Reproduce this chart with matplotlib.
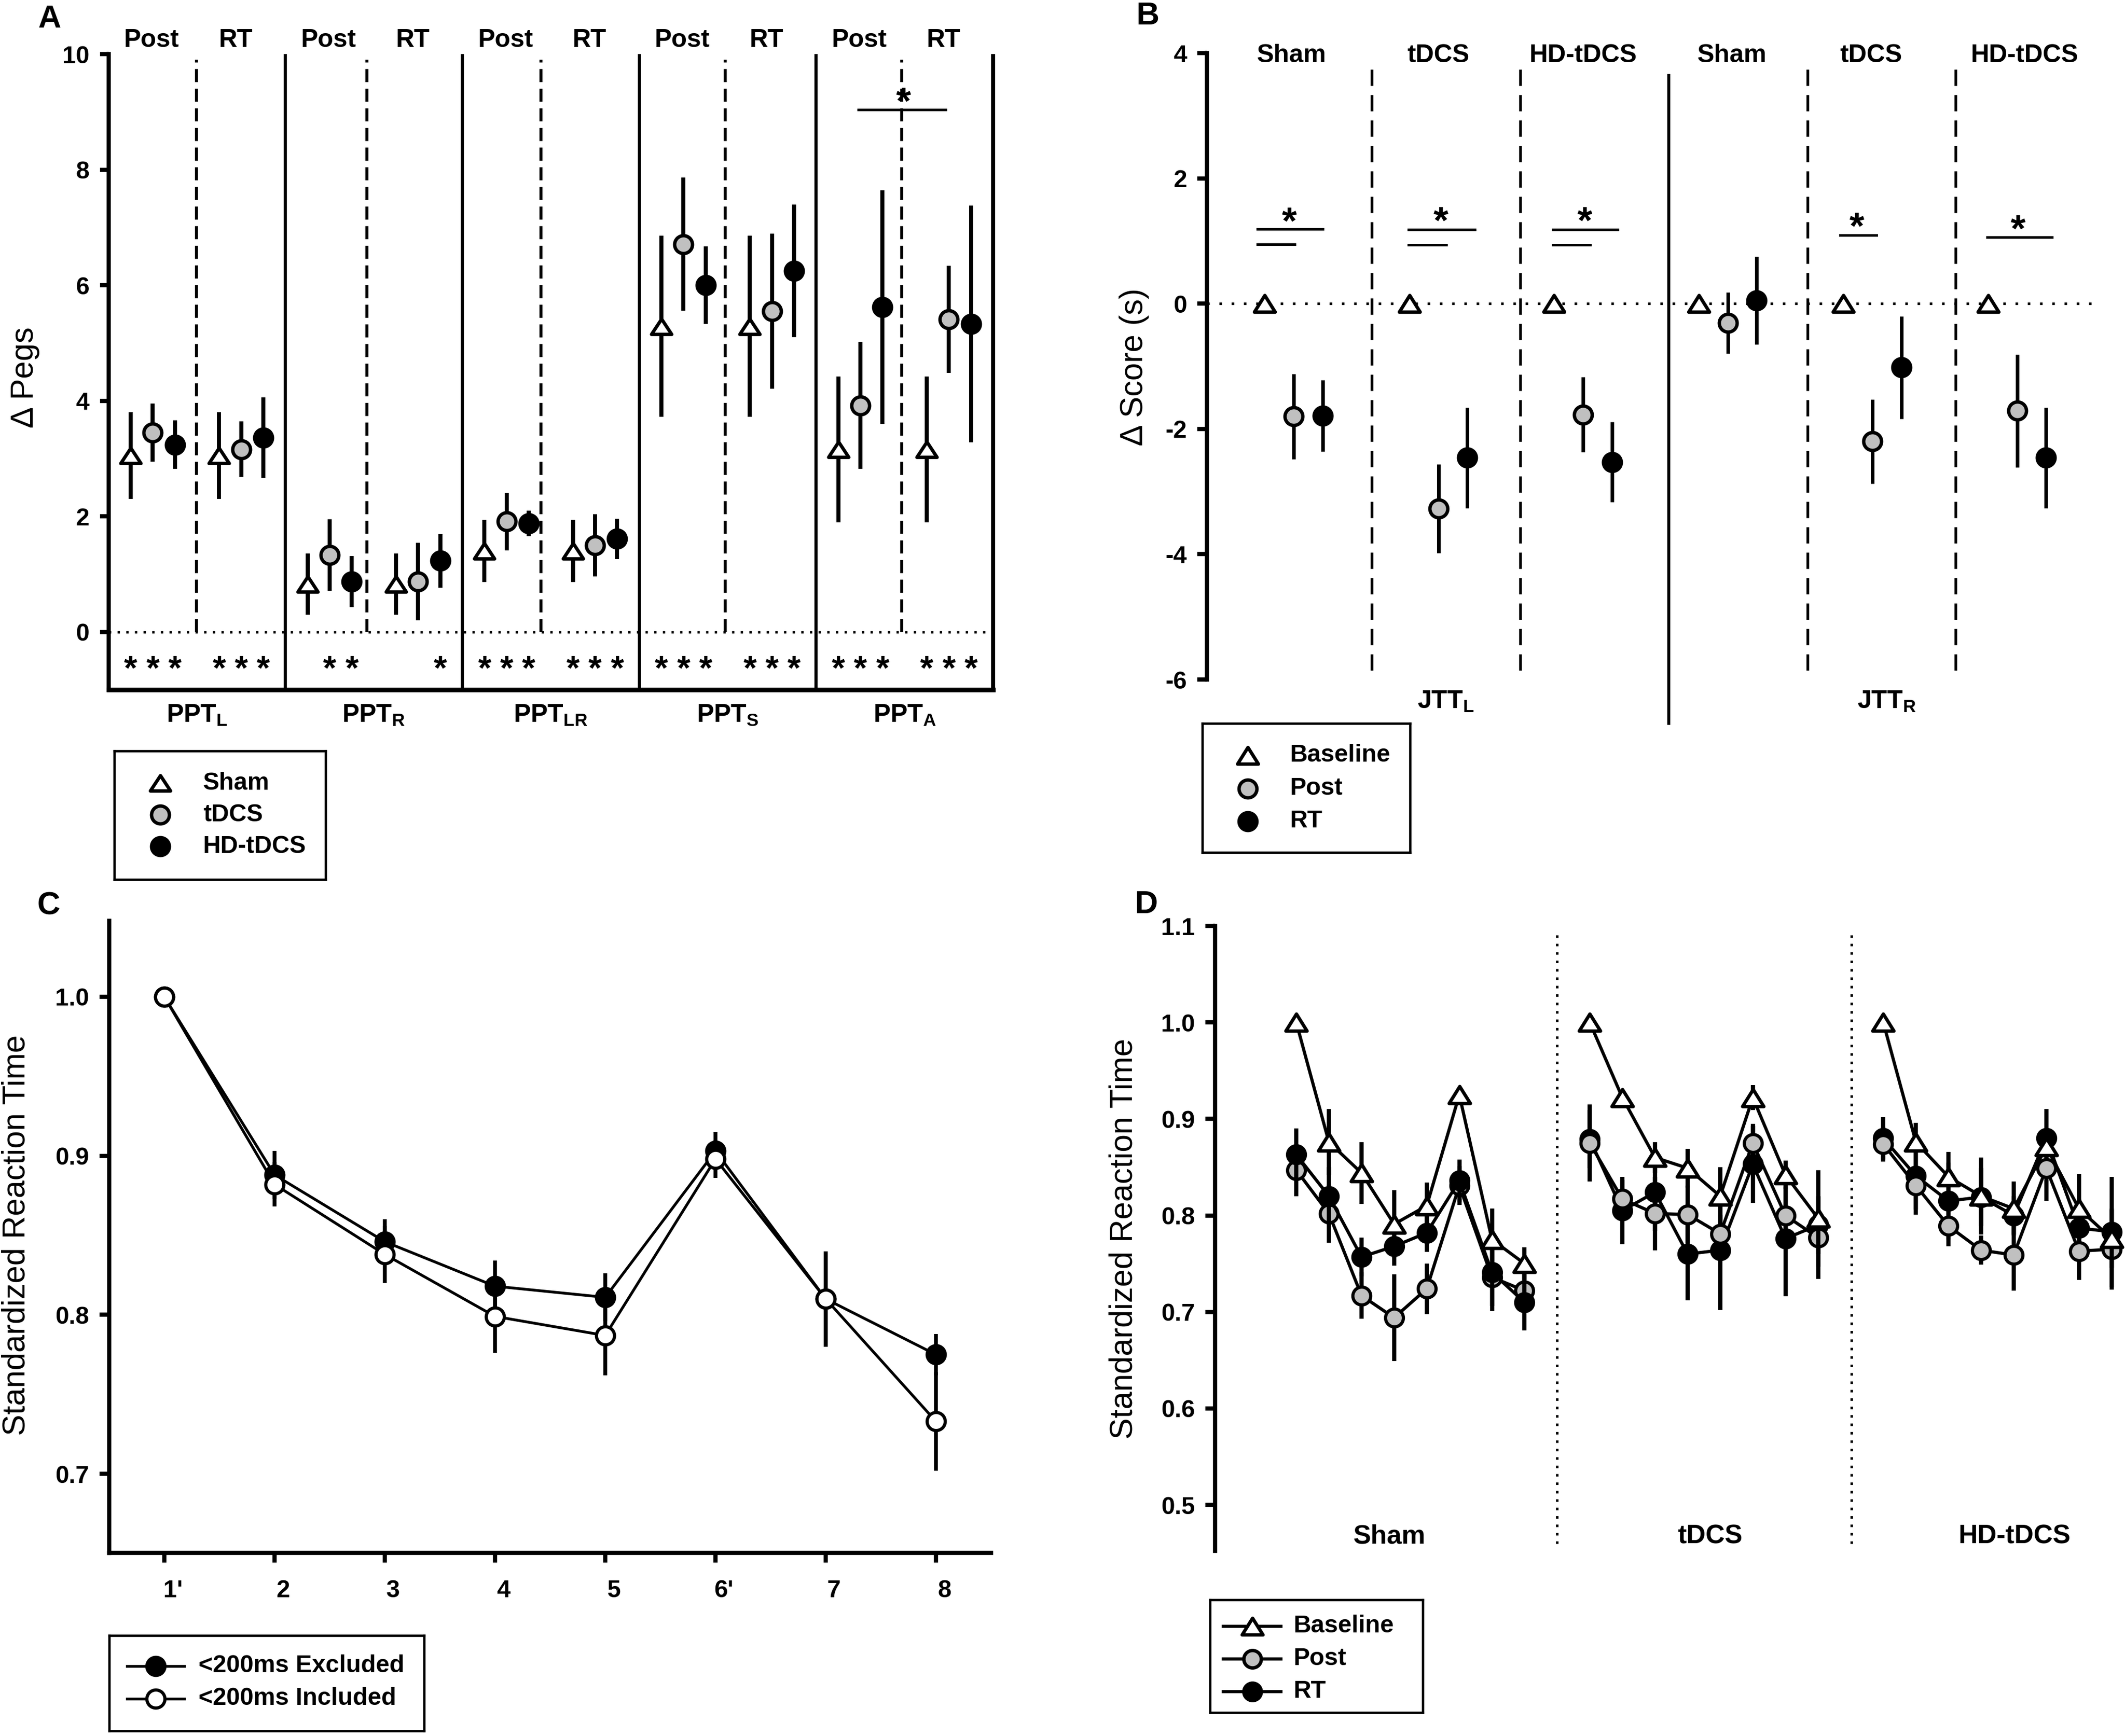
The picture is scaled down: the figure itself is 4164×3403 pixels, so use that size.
import matplotlib
matplotlib.use('Agg')
import matplotlib.pyplot as plt
import numpy as np
from matplotlib.path import Path
from matplotlib.transforms import offset_copy, ScaledTranslation

plt.rcParams['font.family'] = ['Liberation Sans', 'DejaVu Sans']
plt.rcParams['mathtext.fontset'] = 'custom'
plt.rcParams['mathtext.rm'] = 'Liberation Sans'
plt.rcParams['mathtext.bf'] = 'Liberation Sans:bold'
plt.rcParams['mathtext.it'] = 'Liberation Sans:italic'
plt.rcParams['mathtext.sf'] = 'Liberation Sans'

# ======================= DATA =======================
# ---- Panel A : change in pegs (Purdue Pegboard Test) ----
ppt_subs = ['L', 'R', 'LR', 'S', 'A']
a_phase_labels = ['Post', 'RT']
a_legend_labels = ['Sham', 'tDCS', 'HD-tDCS']
a_post_sham = [3.05, 0.83, 1.40, 5.29, 3.16]
a_post_tdcs = [3.45, 1.33, 1.91, 6.71, 3.92]
a_post_hd = [3.24, 0.87, 1.88, 6.00, 5.62]
a_rt_sham = [3.05, 0.83, 1.40, 5.29, 3.16]
a_rt_tdcs = [3.16, 0.87, 1.50, 5.55, 5.41]
a_rt_hd = [3.36, 1.23, 1.61, 6.25, 5.33]
a_post_sham_err = [0.75, 0.53, 0.54, 1.57, 1.26]
a_post_tdcs_err = [0.50, 0.62, 0.50, 1.15, 1.10]
a_post_hd_err = [0.42, 0.44, 0.22, 0.67, 2.02]
a_rt_sham_err = [0.75, 0.53, 0.54, 1.57, 1.26]
a_rt_tdcs_err = [0.48, 0.67, 0.54, 1.34, 0.93]
a_rt_hd_err = [0.70, 0.46, 0.35, 1.15, 2.05]
# significance vs. zero (Sham, tDCS, HD-tDCS)
a_sig_post = [[1, 1, 1], [0, 1, 1], [1, 1, 1], [1, 1, 1], [1, 1, 1]]
a_sig_rt = [[1, 1, 1], [0, 0, 1], [1, 1, 1], [1, 1, 1], [1, 1, 1]]

# ---- Panel B : Jebsen-Taylor test ----
jtt_subs = ['L', 'R']
b_groups = ['Sham', 'tDCS', 'HD-tDCS', 'Sham', 'tDCS', 'HD-tDCS']
b_legend_labels = ['Baseline', 'Post', 'RT']
b_baseline = [0, 0, 0, 0, 0, 0]
b_post = [-1.80, -3.27, -1.77, -0.31, -2.20, -1.71]
b_post_err = [0.68, 0.71, 0.60, 0.49, 0.67, 0.90]
b_rt = [-1.79, -2.46, -2.53, 0.05, -1.02, -2.46]
b_rt_err = [0.57, 0.80, 0.64, 0.70, 0.82, 0.80]

# ---- Panel C : standardized reaction time by block ----
c_blocks = ["1'", '2', '3', '4', '5', "6'", '7', '8']
c_legend_labels = ['<200ms Excluded', '<200ms Included']
c_excl = [1.000, 0.888, 0.846, 0.818, 0.811, 0.903, 0.810, 0.775]
c_excl_err = [0.000, 0.015, 0.014, 0.016, 0.015, 0.012, 0.030, 0.013]
c_incl = [1.000, 0.882, 0.838, 0.799, 0.787, 0.898, 0.810, 0.733]
c_incl_err = [0.000, 0.014, 0.018, 0.023, 0.025, 0.012, 0.030, 0.031]

# ---- Panel D : standardized reaction time by group and session ----
d_groups = ['Sham', 'tDCS', 'HD-tDCS']
d_legend_labels = ['Baseline', 'Post', 'RT']
d_sham_base = [1.000, 0.876, 0.844, 0.791, 0.810, 0.925, 0.775, 0.750]
d_sham_post = [0.847, 0.802, 0.717, 0.694, 0.724, 0.831, 0.736, 0.722]
d_sham_rt = [0.863, 0.820, 0.757, 0.768, 0.782, 0.836, 0.741, 0.710]
d_sham_base_err = [0.000, 0.034, 0.032, 0.035, 0.024, 0.008, 0.032, 0.017]
d_sham_post_err = [0.027, 0.030, 0.024, 0.045, 0.026, 0.020, 0.030, 0.020]
d_sham_rt_err = [0.027, 0.030, 0.020, 0.020, 0.020, 0.022, 0.040, 0.029]

d_tdcs_base = [1.000, 0.922, 0.860, 0.849, 0.820, 0.922, 0.842, 0.797]
d_tdcs_post = [0.875, 0.817, 0.802, 0.801, 0.781, 0.875, 0.800, 0.777]
d_tdcs_rt = [0.879, 0.805, 0.824, 0.760, 0.764, 0.853, 0.776, 0.790]
d_tdcs_base_err = [0.000, 0.008, 0.016, 0.020, 0.030, 0.013, 0.015, 0.050]
d_tdcs_post_err = [0.040, 0.020, 0.038, 0.030, 0.020, 0.020, 0.030, 0.043]
d_tdcs_rt_err = [0.030, 0.035, 0.040, 0.048, 0.062, 0.040, 0.060, 0.030]

d_hd_base = [1.000, 0.876, 0.840, 0.820, 0.807, 0.871, 0.807, 0.776]
d_hd_post = [0.874, 0.831, 0.789, 0.764, 0.759, 0.849, 0.763, 0.765]
d_hd_rt = [0.880, 0.841, 0.815, 0.819, 0.800, 0.880, 0.787, 0.783]
d_hd_base_err = [0.000, 0.020, 0.026, 0.040, 0.028, 0.010, 0.036, 0.030]
d_hd_post_err = [0.018, 0.025, 0.021, 0.015, 0.037, 0.034, 0.030, 0.042]
d_hd_rt_err = [0.022, 0.040, 0.040, 0.030, 0.020, 0.030, 0.030, 0.057]

# ======================= STYLE / LAYOUT =======================
W, H, DPI = 4164, 3403, 300
GREY = '#c0c0c0'
TICK_FS = 11.5
YLAB_FS = 15
fig = plt.figure(figsize=(W / DPI, H / DPI), dpi=DPI)


def tri_marker(r):
    return Path([(-1, -r), (1, -r), (0, r), (-1, -r)],
                [Path.MOVETO, Path.LINETO, Path.LINETO, Path.CLOSEPOLY])


TRI_A = tri_marker(0.76)
TRI_B = tri_marker(0.80)


def px_axes(x0, y0, x1, y1):
    return fig.add_axes([x0 / W, 1 - y1 / H, (x1 - x0) / W, (y1 - y0) / H])


def legend_box(x0, y0, x1, y1, lw=1.1):
    ax = px_axes(x0, y0, x1, y1)
    ax.set_xlim(x0, x1)
    ax.set_ylim(y1, y0)
    ax.set_xticks([])
    ax.set_yticks([])
    for s in ax.spines.values():
        s.set_linewidth(lw)
    return ax


def star(ax, x, y, size):
    tr = offset_copy(ax.transData, fig=fig, x=0, y=-0.57 * size, units='points')
    ax.text(x, y, '*', fontsize=size, fontweight='bold', ha='center', va='baseline',
            transform=tr, clip_on=False)


def pts(ax, xs, ys, es, marker, face, ms, mew, elw, z, ls='none', lw=0):
    ax.errorbar(xs, ys, yerr=es, fmt='none', ecolor='k', elinewidth=elw, capsize=0, zorder=z)
    ax.plot(xs, ys, ls=ls, lw=lw, color='k', marker=marker, ms=ms, mfc=face, mec='k',
            mew=mew, zorder=z + 0.5, clip_on=False)


def style_yaxis(ax, ticks, labels, length=4.5):
    ax.set_yticks(ticks, labels=labels, fontweight='bold', fontsize=TICK_FS)
    ax.tick_params(axis='y', direction='out', length=length, width=2, pad=5)


def fig_text(x, y, s, **kw):
    fig.text(x / W, 1 - y / H, s, **kw)


# ======================= PANEL A =======================
axA = px_axes(212.6, 106, 1946, 1352)
nA = len(ppt_subs)
pw = 8
axA.set_xlim(0, nA * pw)
axA.set_ylim(-1, 10)
axA.spines['top'].set_visible(False)
axA.spines['right'].set_visible(False)
axA.spines['left'].set_linewidth(2)
axA.spines['bottom'].set_linewidth(2.2)
axA.set_xticks([])
style_yaxis(axA, [0, 2, 4, 6, 8, 10], ['0', '2', '4', '6', '8', '10'], length=4)
axA.axhline(0, color='k', lw=1.1, ls=(0, (1, 2.7)), zorder=1)
dash_off = [3.98, 3.69, 3.55, 3.88, 3.87]
for k in range(nA):
    b0 = k * pw
    axA.plot([b0 + pw] * 2, [-1, 10], color='k', lw=1.5 if k < nA - 1 else 1.9,
             solid_capstyle='butt', clip_on=False, zorder=2)
    axA.plot([b0 + dash_off[k]] * 2, [0, 9.9], color='k', lw=1.4, ls=(0, (4.4, 2.2)), zorder=2)
    axA.text(b0 + 1.95, 10.24, a_phase_labels[0], ha='center', va='center',
             fontsize=12, fontweight='bold')
    axA.text(b0 + 5.75, 10.24, a_phase_labels[1], ha='center', va='center',
             fontsize=12, fontweight='bold')
    axA.text(b0 + 4, -1.56, r'$\mathbf{PPT}_{\mathbf{%s}}$' % ppt_subs[k], ha='center',
             va='baseline', fontsize=12)

xk = np.arange(nA) * pw
a_sets = [
    (xk + 1, a_post_sham, a_post_sham_err, TRI_A, 'white', 9.5),
    (xk + 2, a_post_tdcs, a_post_tdcs_err, 'o', GREY, 8.4),
    (xk + 3, a_post_hd, a_post_hd_err, 'o', 'k', 8.4),
    (xk + 5, a_rt_sham, a_rt_sham_err, TRI_A, 'white', 9.5),
    (xk + 6, a_rt_tdcs, a_rt_tdcs_err, 'o', GREY, 8.4),
    (xk + 7, a_rt_hd, a_rt_hd_err, 'o', 'k', 8.4),
]
for xs, ys, es, mk, fc, ms in a_sets:
    pts(axA, xs, ys, es, mk, fc, ms, 1.6, 1.9, 4)

for k in range(nA):
    for j in range(3):
        if a_sig_post[k][j]:
            star(axA, k * pw + 1 + j, -0.48, 16)
        if a_sig_rt[k][j]:
            star(axA, k * pw + 5 + j, -0.48, 16)
# Post vs RT comparison in PPT_A
axA.plot([33.9, 37.86], [9.04, 9.04], color='k', lw=1.2, zorder=3)
star(axA, 35.94, 9.35, 18)

fig_text(49, 740, 'Δ Pegs', rotation=90, ha='center', va='center', fontsize=YLAB_FS)
fig_text(97, 37, 'A', ha='center', va='center', fontsize=15, fontweight='bold')

# legend A
lgA = legend_box(224, 1472, 638, 1724)
for yy, mk, fc, ms, lab in zip([1535, 1597, 1659], [TRI_A, 'o', 'o'], ['white', GREY, 'k'],
                               [9.5, 8.4, 8.4], a_legend_labels):
    lgA.plot([314], [yy], ls='none', marker=mk, ms=ms, mfc=fc, mec='k', mew=1.6)
    lgA.text(398, yy, lab, ha='left', va='center', fontsize=11.5, fontweight='bold')

# ======================= PANEL B =======================
axB = px_axes(2365, 104, 2365 + 30.9 * 56.7, 1332)
axB.set_xlim(0, 30.9)
axB.set_ylim(-6, 4)
for s in ['top', 'right', 'bottom']:
    axB.spines[s].set_visible(False)
axB.spines['left'].set_linewidth(2)
axB.set_xticks([])
style_yaxis(axB, [4, 2, 0, -2, -4, -6], ['4', '2', '0', '-2', '-4', '-6'])
axB.axhline(0, color='k', lw=1.2, ls=(0, (1, 3.8)), zorder=1)

gx = np.arange(len(b_groups)) * 5
b_div = [5.70, 10.83, 15.97, 20.76, 25.88]
for i, xd in enumerate(b_div):
    if i == 2:
        axB.plot([xd, xd], [3.64, -6.7], color='k', lw=1.4, clip_on=False, zorder=2)
    else:
        axB.plot([xd, xd], [3.74, -6], color='k', lw=1.3, ls=(0, (5.9, 3.3)), zorder=2)
b_lab_x = [2.93, 7.99, 13.0, 18.15, 22.96, 28.25]
for xl, lab in zip(b_lab_x, b_groups):
    axB.text(xl, 3.96, lab, ha='center', va='center', fontsize=12, fontweight='bold')
for xl, sub in zip([8.25, 23.5], jtt_subs):
    axB.text(xl, -6.46, r'$\mathbf{JTT}_{\mathbf{%s}}$' % sub, ha='center', va='baseline',
             fontsize=12, clip_on=False)

pts(axB, gx + 2, b_baseline, None, TRI_B, 'white', 9.8, 1.6, 1.7, 4)
pts(axB, gx + 3, b_post, b_post_err, 'o', GREY, 8.4, 1.6, 1.7, 4)
pts(axB, gx + 4, b_rt, b_rt_err, 'o', 'k', 8.4, 1.6, 1.7, 4)

# significance brackets (Baseline vs Post / RT)
b_upper = [(1.75, 4.00, 1.19), (6.97, 9.26, 1.18), (11.96, 14.20, 1.18)]
b_lower = [(1.75, 3.03, 0.95), (6.97, 8.27, 0.94), (11.96, 13.25, 0.94)]
b_single = [(21.89, 23.14, 1.09), (26.97, 29.20, 1.06)]
for x0, x1, yy in b_upper + b_lower + b_single:
    axB.plot([x0, x1], [yy, yy], color='k', lw=1.2, zorder=3)
for xs_, ys_ in [(2.84, 1.47), (8.08, 1.48), (13.05, 1.48), (22.45, 1.39), (28.04, 1.35)]:
    star(axB, xs_, ys_, 18)

fig_text(2223, 719, 'Δ Score (s)', rotation=90, ha='center', va='center', fontsize=YLAB_FS)
fig_text(2249, 32, 'B', ha='center', va='center', fontsize=15, fontweight='bold')

lgB = legend_box(2356, 1418, 2763, 1671)
for yy, mk, fc, ms, lab in zip([1481, 1546, 1610], [TRI_B, 'o', 'o'], ['white', GREY, 'k'],
                               [9.8, 8.4, 8.4], b_legend_labels):
    lgB.plot([2445], [yy], ls='none', marker=mk, ms=ms, mfc=fc, mec='k', mew=1.6)
    lgB.text(2528, yy, lab, ha='left', va='center', fontsize=11.5, fontweight='bold')

# ======================= PANEL C =======================
axC = px_axes(214, 1805, 1942, 3044)
axC.set_xlim(0.5, 8.5)
axC.set_ylim(0.6503, 1.0478)
axC.spines['top'].set_visible(False)
axC.spines['right'].set_visible(False)
axC.spines['left'].set_linewidth(2)
axC.spines['bottom'].set_linewidth(2)
style_yaxis(axC, [0.7, 0.8, 0.9, 1.0], ['0.7', '0.8', '0.9', '1.0'])
xc = np.arange(1, len(c_blocks) + 1)
axC.set_xticks(xc, labels=c_blocks, fontweight='bold', fontsize=TICK_FS)
axC.tick_params(axis='x', direction='out', length=4.5, width=2, pad=8)
for lab in axC.get_xticklabels():
    lab.set_transform(lab.get_transform() + ScaledTranslation(4 / 72, 0, fig.dpi_scale_trans))
pts(axC, xc, c_excl, c_excl_err, 'o', 'k', 8.5, 1.5, 1.8, 3, ls='-', lw=1.3)
pts(axC, xc, c_incl, c_incl_err, 'o', 'white', 8.5, 1.5, 1.8, 4, ls='-', lw=1.3)

fig_text(32, 2421, 'Standardized Reaction Time', rotation=90, ha='center', va='center',
         fontsize=YLAB_FS)
fig_text(95, 1776, 'C', ha='center', va='center', fontsize=15, fontweight='bold')

lgC = legend_box(214, 3206, 831, 3393)
for yy, fc, lab in zip([3266, 3330], ['k', 'white'], c_legend_labels):
    lgC.plot([249, 361], [yy, yy], color='k', lw=1.3)
    lgC.plot([305], [yy], ls='none', marker='o', ms=8.5, mfc=fc, mec='k', mew=1.5)
    lgC.text(389, yy, lab, ha='left', va='center', fontsize=11.5, fontweight='bold')

# ======================= PANEL D =======================
axD = px_axes(2381, 1815, 2381 + 27.79 * 63.9, 3040)
axD.set_xlim(-2.49, 25.3)
axD.set_ylim(0.4525, 1.1)
for s in ['top', 'right', 'bottom']:
    axD.spines[s].set_visible(False)
axD.spines['left'].set_linewidth(2)
axD.set_xticks([])
style_yaxis(axD, [0.5, 0.6, 0.7, 0.8, 0.9, 1.0, 1.1],
            ['0.5', '0.6', '0.7', '0.8', '0.9', '1.0', '1.1'])
for xd in [8.0, 17.03]:
    axD.plot([xd, xd], [0.46, 1.094], color='k', lw=1.2, ls=(0, (1, 2.3)), zorder=1)
for xl, lab in zip([2.85, 12.69, 22.03], d_groups):
    axD.text(xl, 0.46, lab, ha='center', va='baseline', fontsize=12.5, fontweight='bold')

d_sets = [
    (d_sham_base, d_sham_base_err, d_sham_post, d_sham_post_err, d_sham_rt, d_sham_rt_err),
    (d_tdcs_base, d_tdcs_base_err, d_tdcs_post, d_tdcs_post_err, d_tdcs_rt, d_tdcs_rt_err),
    (d_hd_base, d_hd_base_err, d_hd_post, d_hd_post_err, d_hd_rt, d_hd_rt_err),
]
post_on_top = [False, True, True]
for g, (bm, be, pm, pe, rm, re_) in enumerate(d_sets):
    xs = 9 * g + np.arange(len(bm))
    zp, zr = (4, 3) if post_on_top[g] else (3, 4)
    pts(axD, xs, pm, pe, 'o', GREY, 8.4, 1.5, 2.0, zp, ls='-', lw=1.5)
    pts(axD, xs, rm, re_, 'o', 'k', 8.4, 1.5, 2.0, zr, ls='-', lw=1.5)
    pts(axD, xs, bm, be, TRI_B, 'white', 10, 1.6, 2.0, 5, ls='-', lw=1.5)

fig_text(2202, 2428, 'Standardized Reaction Time', rotation=90, ha='center', va='center',
         fontsize=YLAB_FS)
fig_text(2246, 1773, 'D', ha='center', va='center', fontsize=15, fontweight='bold')

lgD = legend_box(2371, 3136, 2788, 3357)
for yy, mk, fc, ms, lab in zip([3188, 3252, 3316], [TRI_B, 'o', 'o'], ['white', GREY, 'k'],
                               [9.8, 8.2, 8.2], d_legend_labels):
    lgD.plot([2397, 2510], [yy, yy], color='k', lw=1.5)
    lgD.plot([2454], [yy], ls='none', marker=mk, ms=ms, mfc=fc, mec='k', mew=1.6)
    lgD.text(2535, yy, lab, ha='left', va='center', fontsize=11.5, fontweight='bold')

fig.savefig('out.png', dpi=DPI)
